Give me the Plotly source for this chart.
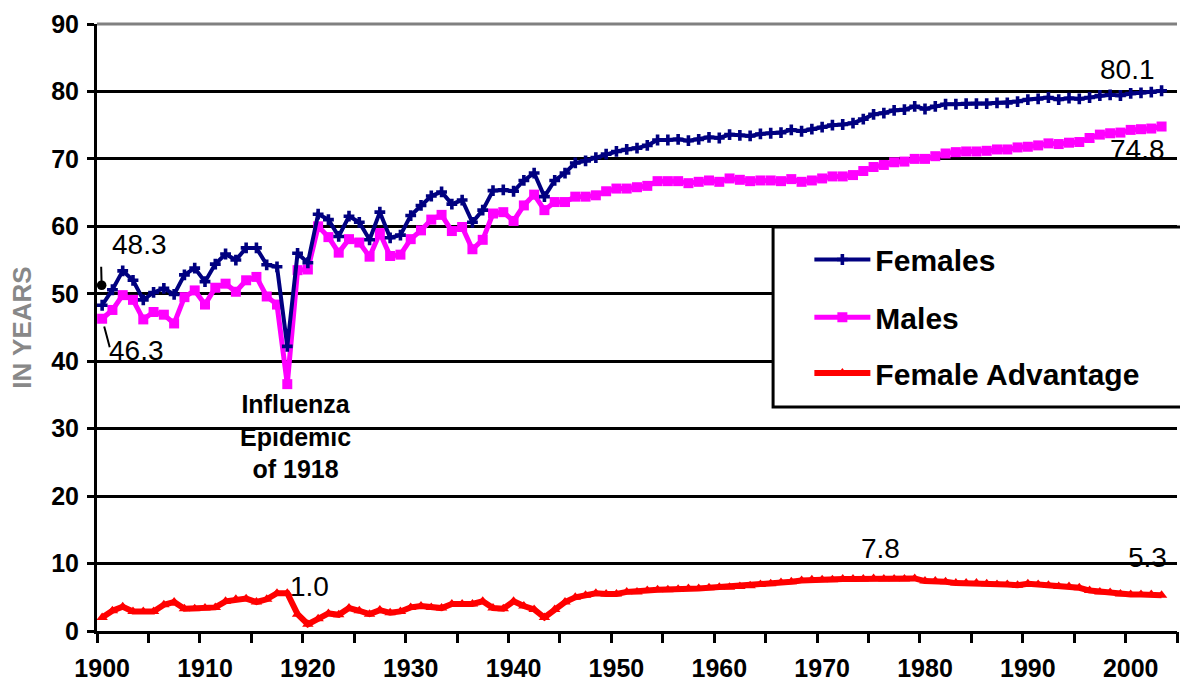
import plotly.graph_objects as go

# ---------------- data ----------------
years = list(range(1900, 2004))

females = [48.3, 50.6, 53.4, 52.0, 49.1, 50.2, 50.8, 49.9, 52.8, 53.8,
           51.8, 54.4, 55.9, 55.0, 56.8, 56.8, 54.3, 54.0, 42.2, 56.0,
           54.6, 61.8, 61.0, 58.5, 61.5, 60.6, 58.0, 62.1, 58.3, 58.7,
           61.6, 63.1, 64.5, 65.1, 63.3, 63.9, 60.6, 62.4, 65.3, 65.4,
           65.2, 66.8, 67.9, 64.4, 66.8, 67.9, 69.4, 69.7, 70.2, 70.7,
           71.1, 71.4, 71.6, 72.0, 72.8, 72.8, 72.9, 72.7, 72.9, 73.2,
           73.1, 73.6, 73.5, 73.4, 73.7, 73.8, 73.9, 74.3, 74.1, 74.4,
           74.7, 75.0, 75.1, 75.3, 75.9, 76.6, 76.8, 77.2, 77.3, 77.8,
           77.4, 77.8, 78.1, 78.1, 78.2, 78.2, 78.2, 78.3, 78.3, 78.5,
           78.8, 78.9, 79.1, 78.8, 79.0, 78.9, 79.1, 79.4, 79.5, 79.4,
           79.7, 79.8, 79.9, 80.1]

males = [46.3, 47.6, 49.8, 49.1, 46.2, 47.3, 46.9, 45.6, 49.5, 50.5,
         48.4, 50.9, 51.5, 50.3, 52.0, 52.5, 49.6, 48.4, 36.6, 53.5,
         53.6, 60.0, 58.4, 56.1, 58.1, 57.6, 55.5, 59.0, 55.6, 55.8,
         58.1, 59.4, 61.0, 61.7, 59.3, 59.9, 56.6, 58.0, 61.9, 62.1,
         60.8, 63.1, 64.7, 62.4, 63.6, 63.6, 64.4, 64.4, 64.6, 65.2,
         65.6, 65.6, 65.8, 66.0, 66.7, 66.7, 66.7, 66.4, 66.6, 66.8,
         66.6, 67.1, 66.9, 66.7, 66.8, 66.8, 66.7, 67.0, 66.6, 66.8,
         67.1, 67.4, 67.4, 67.6, 68.2, 68.8, 69.1, 69.5, 69.6, 70.0,
         70.0, 70.4, 70.8, 71.0, 71.1, 71.1, 71.2, 71.4, 71.4, 71.7,
         71.8, 72.0, 72.3, 72.2, 72.4, 72.5, 73.1, 73.6, 73.8, 73.9,
         74.3, 74.4, 74.5, 74.8]

advantage = [2.0, 3.0, 3.6, 2.9, 2.9, 2.9, 3.9, 4.3, 3.3, 3.3,
             3.4, 3.5, 4.4, 4.7, 4.8, 4.3, 4.7, 5.6, 5.6, 2.5,
             1.0, 1.8, 2.6, 2.4, 3.4, 3.0, 2.5, 3.1, 2.7, 2.9,
             3.5, 3.7, 3.5, 3.4, 4.0, 4.0, 4.0, 4.4, 3.4, 3.3,
             4.4, 3.7, 3.2, 2.0, 3.2, 4.3, 5.0, 5.3, 5.6, 5.5,
             5.5, 5.8, 5.8, 6.0, 6.1, 6.1, 6.2, 6.3, 6.3, 6.4,
             6.5, 6.5, 6.6, 6.7, 6.9, 7.0, 7.2, 7.3, 7.5, 7.6,
             7.6, 7.6, 7.7, 7.7, 7.7, 7.8, 7.7, 7.7, 7.7, 7.8,
             7.4, 7.4, 7.3, 7.1, 7.1, 7.1, 7.0, 6.9, 6.9, 6.8,
             7.0, 6.9, 6.8, 6.6, 6.6, 6.4, 6.0, 5.8, 5.7, 5.5,
             5.4, 5.4, 5.4, 5.3]

label_years = list(range(1900, 2001, 10))
tick_bounds = [y - 0.5 for y in range(1900, 2006, 5)]
y_ticks = list(range(0, 91, 10))

FONT = "Liberation Sans, Arial, sans-serif"
NAVY = "#000080"
MAGENTA = "#FF00FF"
RED = "#FF0000"

fig = go.Figure()

fig.add_trace(go.Scatter(
    x=years, y=males, name="Males", mode="lines+markers",
    line=dict(color=MAGENTA, width=5),
    marker=dict(symbol="square", size=10, color=MAGENTA),
    legend="legend2"))

fig.add_trace(go.Scatter(
    x=years, y=females, name="Females", mode="lines+markers",
    line=dict(color=NAVY, width=4),
    marker=dict(symbol="cross", size=9, color=NAVY),
    legend="legend"))

fig.add_trace(go.Scatter(
    x=years, y=advantage, name="Female Advantage", mode="lines+markers",
    line=dict(color=RED, width=6),
    marker=dict(symbol="triangle-up", size=10, color=RED),
    legend="legend3"))

# carrier trace for the tick-mark axis
fig.add_trace(go.Scatter(x=years, y=advantage, xaxis="x2", mode="none",
                         showlegend=False, hoverinfo="skip"))

tick_font = dict(family=FONT, size=25, color="black", weight="bold")
leg_font = dict(family=FONT, size=30, color="black", weight="bold")

def legend_at(y):
    return dict(x=0.6596, y=y, xanchor="left", yanchor="middle",
                bgcolor="rgba(0,0,0,0)", borderwidth=0, font=leg_font,
                itemwidth=56)

num_font = dict(family=FONT, size=28, color="black")
ann_font = dict(family=FONT, size=25, color="black", weight="bold")

annotations = [
    dict(x=years[0], y=females[0], text=f"{females[0]:.1f}", showarrow=False,
         xshift=37, yshift=61, font=num_font),
    dict(x=years[0], y=males[0], text=f"{males[0]:.1f}", showarrow=False,
         xshift=34, yshift=-32, font=num_font),
    dict(x=years[-1], y=females[-1], text=f"{females[-1]:.1f}", showarrow=False,
         xshift=-34, yshift=21, font=num_font),
    dict(x=years[-1], y=males[-1], text=f"{males[-1]:.1f}", showarrow=False,
         xshift=-24, yshift=-23, font=num_font),
    dict(x=years[75], y=advantage[75], text=f"{advantage[75]:.1f}", showarrow=False,
         xshift=7, yshift=30, font=num_font),
    dict(x=years[-1], y=advantage[-1], text=f"{advantage[-1]:.1f}", showarrow=False,
         xshift=-14, yshift=38, font=num_font),
    dict(x=years[20], y=advantage[20], text=f"{advantage[20]:.1f}", showarrow=False,
         xshift=2, yshift=38, font=num_font),
    dict(x=years[18], y=males[18], text="Influenza<br>Epidemic<br>of 1918",
         showarrow=False, yanchor="top", xshift=8, yshift=-4, font=ann_font),
    # leader lines near 1900
    dict(x=years[0], y=females[0], text="", showarrow=True, arrowhead=6,
         arrowsize=1.2, arrowwidth=2, arrowcolor="black", ax=-1, ay=-40,
         standoff=20),
    dict(x=years[0], y=males[0], text="", showarrow=True, arrowhead=0,
         arrowwidth=2, arrowcolor="black", ax=8, ay=30, standoff=8),
]

fig.update_layout(
    width=1180, height=681,
    margin=dict(l=97, r=3, t=24, b=50),
    paper_bgcolor="white", plot_bgcolor="white",
    font=dict(family=FONT, color="black"),
    showlegend=True,
    legend=legend_at(0.612),
    legend2=legend_at(0.517),
    legend3=legend_at(0.425),
    xaxis=dict(range=[1899.5, 2004.5], tickvals=label_years,
               ticktext=[str(y) for y in label_years], ticks="",
               showline=True, linecolor="black", linewidth=3,
               showgrid=False, zeroline=False, tickfont=tick_font,
               ticklabelstandoff=13, automargin=False),
    xaxis2=dict(overlaying="x", anchor="y", side="bottom",
                range=[1899.5, 2004.5], tickvals=tick_bounds,
                ticks="outside", ticklen=11, tickwidth=3, tickcolor="black",
                showticklabels=False, showgrid=False, zeroline=False,
                showline=False),
    yaxis=dict(range=[0, 90], tickvals=y_ticks, ticks="outside", ticklen=7,
               tickwidth=3, tickcolor="black", showline=True,
               linecolor="black", linewidth=3, showgrid=True,
               gridcolor="black", gridwidth=3, zeroline=False,
               tickfont=tick_font, ticklabelstandoff=3, automargin=False,
               title=dict(text="IN YEARS", standoff=13,
                          font=dict(family=FONT, size=26, color="#888888",
                                    weight="bold"))),
    annotations=annotations,
    shapes=[
        dict(type="line", xref="paper", yref="paper", x0=0, x1=1, y0=1, y1=1,
             line=dict(color="#808080", width=3), layer="above"),
        dict(type="rect", xref="paper", yref="paper", x0=0.626, x1=1.01,
             y0=0.369, y1=0.6656, fillcolor="white",
             line=dict(color="black", width=3), layer="above"),
    ],
)

fig.write_html("out.html",
               config={"displayModeBar": False},
               post_script="document.body.style.margin='0px';")
